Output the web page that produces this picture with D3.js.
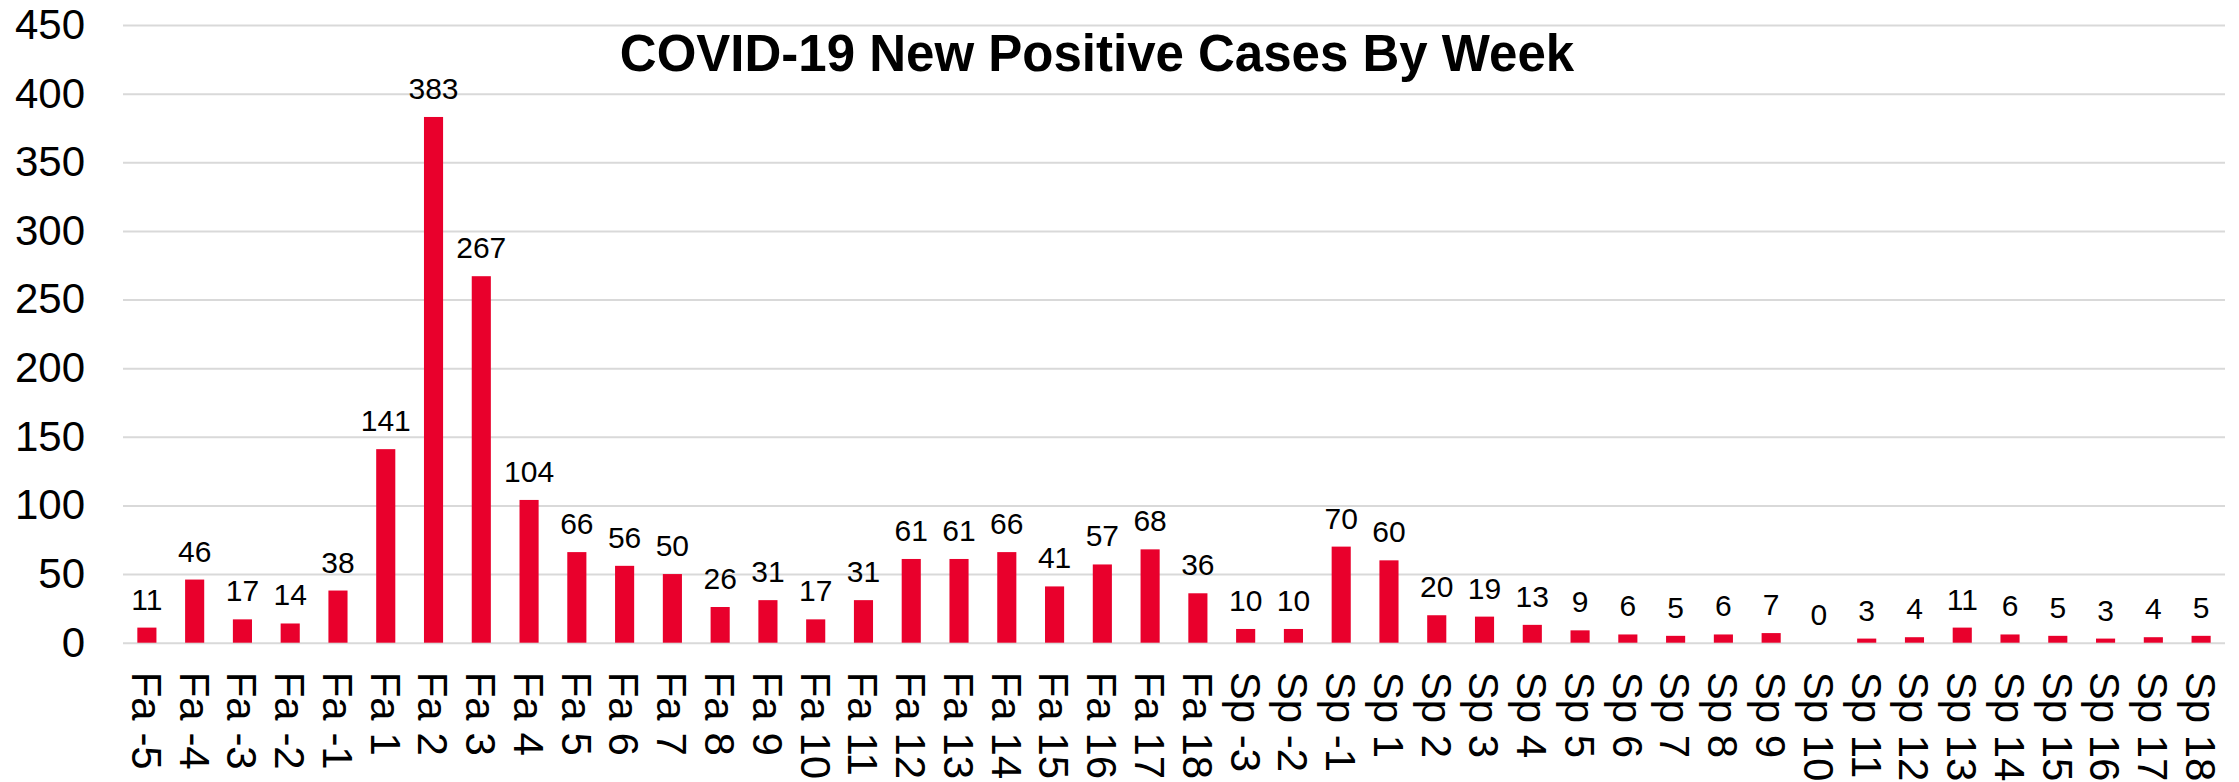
<!DOCTYPE html>
<html>
<head>
<meta charset="utf-8">
<script src="https://cdn.jsdelivr.net/npm/d3@7"></script>
<style>
  html, body { margin: 0; padding: 0; background: #fff; }
  svg { display: block; font-family: "Liberation Sans", Arial, sans-serif; }
</style>
</head>
<body>
<div id="chart"></div>
<script>
// weeks, fall then spring
const weeks = [
  "Fa -5", "Fa -4", "Fa -3", "Fa -2", "Fa -1",
  "Fa 1", "Fa 2", "Fa 3", "Fa 4", "Fa 5", "Fa 6", "Fa 7", "Fa 8", "Fa 9",
  "Fa 10", "Fa 11", "Fa 12", "Fa 13", "Fa 14", "Fa 15", "Fa 16", "Fa 17", "Fa 18",
  "Sp -3", "Sp -2", "Sp -1",
  "Sp 1", "Sp 2", "Sp 3", "Sp 4", "Sp 5", "Sp 6", "Sp 7", "Sp 8", "Sp 9",
  "Sp 10", "Sp 11", "Sp 12", "Sp 13", "Sp 14", "Sp 15", "Sp 16", "Sp 17", "Sp 18"
];
const cases = [
  11, 46, 17, 14, 38,
  141, 383, 267, 104, 66, 56, 50, 26, 31, 17, 31, 61, 61, 66, 41, 57, 68, 36,
  10, 10, 70,
  60, 20, 19, 13, 9, 6, 5, 6, 7, 0, 3, 4, 11, 6, 5, 3, 4, 5
];
const yTicks = [0, 50, 100, 150, 200, 250, 300, 350, 400, 450];

const data = weeks.map((w, i) => ({ week: w, value: cases[i] }));

const width = 2239;
const height = 782;
const plotLeft = 123, plotRight = 2225, plotTop = 25, plotBottom = 642.7;

const svg = d3.select("#chart")
  .append("svg")
  .attr("width", width)
  .attr("height", height);

const x = d3.scaleBand()
  .domain(weeks)
  .range([plotLeft, plotRight])
  .paddingInner(0.6)
  .paddingOuter(0.3);

const y = d3.scaleLinear()
  .domain([0, 450])
  .range([plotBottom, plotTop]);

// gridlines + y labels
const yAxis = d3.axisLeft(y)
  .tickValues(yTicks)
  .tickSize(-(plotRight - plotLeft))
  .tickPadding(38);

svg.append("g")
  .attr("transform", `translate(${plotLeft},0)`)
  .call(yAxis)
  .call(g => g.select(".domain").remove())
  .call(g => g.selectAll(".tick line").attr("stroke", "#d9d9d9").attr("stroke-width", 2))
  .call(g => g.selectAll(".tick text")
    .attr("fill", "#000")
    .attr("font-size", 42)
    .attr("font-family", "Liberation Sans, Arial, sans-serif"));

// bars
svg.append("g")
  .selectAll("rect")
  .data(data)
  .enter().append("rect")
  .attr("x", d => x(d.week))
  .attr("y", d => y(d.value))
  .attr("width", x.bandwidth())
  .attr("height", d => y(0) - y(d.value))
  .attr("fill", "#e9002c");

// value labels
svg.append("g")
  .selectAll("text")
  .data(data)
  .enter().append("text")
  .attr("x", d => x(d.week) + x.bandwidth() / 2)
  .attr("y", d => y(d.value) - 18)
  .attr("text-anchor", "middle")
  .attr("font-size", 30)
  .attr("fill", "#000")
  .text(d => d.value);

// category labels, rotated
const xAxis = d3.axisBottom(x).tickSize(0).tickPadding(0);
svg.append("g")
  .attr("transform", `translate(0,${plotBottom})`)
  .call(xAxis)
  .call(g => g.select(".domain").remove())
  .call(g => g.selectAll(".tick text")
    .attr("fill", "#000")
    .attr("font-size", 42)
    .attr("font-family", "Liberation Sans, Arial, sans-serif")
    .attr("text-anchor", "start")
    .attr("transform", "translate(0,29) rotate(90)")
    .attr("x", 0)
    .attr("y", 0)
    .attr("dy", "0.36em"));

// title
svg.append("text")
  .attr("x", 1097)
  .attr("y", 71)
  .attr("text-anchor", "middle")
  .attr("font-size", 51)
  .attr("font-weight", "bold")
  .attr("fill", "#000")
  .text("COVID-19 New Positive Cases By Week");
</script>
</body>
</html>
